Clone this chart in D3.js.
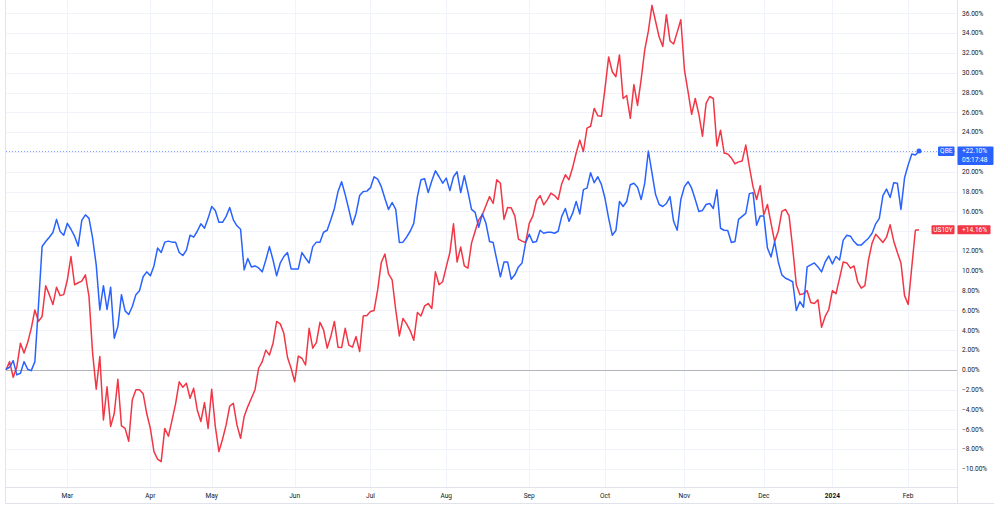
<!DOCTYPE html>
<html>
<head>
<meta charset="utf-8">
<script src="https://cdn.jsdelivr.net/npm/d3@7"></script>
<style>
  body { margin: 0; background: #fff; }
  text { font-family: Roboto, "Liberation Sans", sans-serif; }
</style>
</head>
<body>
<div id="chart"></div>
<script>
// month labels and the bar (trading day) index where each month starts
var months = ["Mar", "Apr", "May", "Jun", "Jul", "Aug", "Sep", "Oct", "Nov", "Dec", "2024", "Feb"]
var monthIdx = [17, 40, 57, 80, 101, 122, 145, 166, 188, 210, 229, 250]

var yTicks = [-10, -8, -6, -4, -2, 0, 2, 4, 6, 8, 10, 12, 14, 16, 18, 20, 22, 24, 26, 28, 30, 32, 34, 36]

// % change since first bar
var qbe = [0.07, 0.27, 0.94, -0.5, -0.34, 0.84, 0.07, -0.07, 0.84, 6.5,
  12.46, 12.96, 13.4, 13.87, 15.2, 13.97, 13.6, 14.8, 14.2, 13.5,
  12.5, 15.1, 15.66, 15.3, 13.3, 10.6, 6.06, 8.5, 6.1, 8.35,
  3.2, 4.4, 7.6, 5.96, 5.6, 6.4, 7.6, 8.0, 9.4, 9.9,
  9.5, 10.5, 12.3, 11.85, 12.9, 13.0, 12.9, 12.9, 11.85, 11.55,
  12.1, 13.6, 13.4, 14.0, 14.75, 14.3, 15.3, 16.5, 16.1, 14.9,
  14.9, 15.5, 16.4, 15.15, 14.55, 14.2, 10.1, 11.25, 10.4, 10.5,
  10.3, 9.9, 11.1, 12.45, 11.1, 9.5, 10.8, 11.45, 11.85, 10.2,
  10.2, 10.2, 11.85, 11.3, 10.8, 12.45, 12.9, 12.9, 13.9, 14.1,
  15.15, 16.3, 18.0, 19.0, 17.7, 16.2, 14.65, 15.8, 17.6, 18.0,
  18.05, 18.4, 19.5, 19.26, 18.5, 17.3, 16.2, 16.9, 16.2, 12.86,
  12.9, 13.4, 14.0, 14.8, 17.5, 19.2, 19.3, 17.9, 19.1, 20.1,
  19.5, 18.85, 19.36, 18.1, 19.5, 20.0, 17.9, 19.6, 18.0, 16.2,
  15.9, 14.4, 15.75, 14.8, 12.96, 12.86, 11.1, 9.4, 10.9, 10.9,
  9.15, 9.6, 10.4, 10.8, 12.86, 13.7, 12.86, 12.96, 14.1, 13.8,
  13.9, 13.9, 13.8, 14.0, 15.5, 16.3, 15.0, 15.8, 17.0, 15.75,
  18.2, 18.35, 19.9, 18.9, 19.5, 18.7, 17.3, 15.3, 13.6, 14.07,
  17.0, 16.5, 17.0, 18.7, 18.85, 18.45, 17.2, 18.85, 22.1, 19.9,
  17.7, 16.7, 16.5, 16.8, 17.5, 15.0, 14.1, 17.2, 18.5, 19.0,
  18.35, 17.2, 16.0, 16.1, 16.7, 16.8, 16.3, 18.2, 14.3, 14.1,
  14.07, 12.86, 12.96, 15.2, 15.5, 15.8, 17.8, 17.9, 14.6, 15.55,
  15.55, 12.3, 11.4, 12.96, 10.9, 9.6, 9.26, 9.1, 8.9, 6.0,
  6.9, 6.33, 10.4, 10.6, 10.8, 10.4, 9.9, 10.9, 11.5, 10.7,
  11.45, 11.1, 13.1, 13.6, 13.5, 12.96, 12.6, 12.6, 12.96, 13.3,
  13.8, 14.75, 15.3, 17.6, 18.25, 17.4, 18.9, 18.85, 16.2, 19.4,
  20.7, 21.8, 21.7, 22.1]

var us10y = [0.0, 0.84, -0.74, 0.3, 2.7, 1.7, 2.76, 4.2, 6.06, 4.9,
  5.4, 8.5, 7.6, 6.6, 8.35, 7.5, 7.6, 9.1, 11.45, 8.6,
  8.8, 8.96, 9.6, 7.4, 1.7, -1.95, 1.35, -5.05, -1.7, -5.7,
  -4.4, -0.94, -5.65, -5.9, -7.2, -3.0, -2.0, -2.0, -2.4, -4.4,
  -5.9, -8.25, -9.0, -9.26, -5.9, -6.7, -5.1, -3.4, -1.2, -1.75,
  -1.35, -2.86, -1.85, -4.04, -5.2, -3.3, -5.9, -1.95, -5.7, -8.25,
  -7.0, -5.55, -3.64, -3.37, -5.55, -6.9, -4.7, -3.7, -2.86, -2.0,
  0.17, 0.84, 2.0, 1.5, 2.7, 4.9, 4.65, 3.7, 1.28, 0.17,
  -1.18, 1.4, 1.18, 0.5, 4.2, 2.2, 2.76, 4.8, 4.04, 2.2,
  3.37, 4.9, 2.3, 2.26, 4.2, 2.5, 2.3, 3.37, 1.85, 5.45,
  5.5, 5.9, 6.0, 8.1, 10.85, 11.7, 9.7, 9.1, 6.06, 3.43,
  5.2, 4.65, 3.97, 3.0, 5.8, 5.45, 6.46, 6.7, 6.2, 9.9,
  8.6, 8.9, 10.4, 11.85, 14.75, 10.9, 12.4, 10.5, 10.27, 12.8,
  14.0, 15.15, 15.66, 16.6, 17.5, 16.8, 19.2, 18.85, 15.2, 16.4,
  16.36, 15.55, 13.2, 13.0, 12.86, 14.8, 15.55, 17.1, 17.6, 16.67,
  17.17, 17.85, 17.6, 17.2, 18.8, 19.7, 19.2, 20.4, 21.9, 23.2,
  22.05, 24.4, 24.6, 26.4, 25.66, 25.6, 28.45, 31.6, 30.1, 29.6,
  31.8, 27.4, 27.7, 25.4, 28.8, 26.7, 29.3, 32.3, 34.2, 36.8,
  35.2, 33.6, 32.66, 35.86, 33.2, 32.9, 34.1, 35.35, 30.3, 28.1,
  25.8, 27.4, 25.8, 23.6, 26.9, 27.6, 27.4, 22.6, 24.2, 21.9,
  21.8, 21.4, 20.8, 21.0, 21.1, 22.7, 20.5, 18.5, 17.2, 18.6,
  15.66, 16.7, 14.8, 12.96, 14.0, 16.0, 16.2, 15.55, 12.3, 8.6,
  7.6, 7.7, 8.0, 6.8, 6.7, 7.07, 4.3, 5.4, 6.1, 8.0,
  7.7, 9.26, 10.9, 10.8, 10.27, 10.5, 8.9, 8.25, 8.5, 11.1,
  12.8, 13.7, 13.3, 12.86, 13.4, 14.65, 13.0, 11.85, 10.8, 7.5,
  6.6, 10.4, 14.1, 14.16]

var width = 1000
    height = 505
var plotRight = 957
    plotBottom = 487

var blue = "#2962ff"
    red = "#f23645"

var svg = d3.select("#chart")
  .append("svg")
    .attr("width", width)
    .attr("height", height)

var x = d3.scaleLinear()
  .domain([0, 253])
  .range([6, 919])

var y = d3.scaleLinear()
  .domain([-10, 36])
  .range([469, 13.3])

var qy = y(qbe[qbe.length - 1])
var ry = y(us10y[us10y.length - 1])

// grid
svg.selectAll("hgrid")
  .data(yTicks)
  .enter()
  .append("line")
    .attr("x1", 6).attr("x2", plotRight)
    .attr("y1", function(d){ return Math.round(y(d)) + 0.5 })
    .attr("y2", function(d){ return Math.round(y(d)) + 0.5 })
    .attr("stroke", "#f0f3fa")

svg.selectAll("vgrid")
  .data(monthIdx)
  .enter()
  .append("line")
    .attr("x1", function(d){ return Math.round(x(d)) + 0.5 })
    .attr("x2", function(d){ return Math.round(x(d)) + 0.5 })
    .attr("y1", 0).attr("y2", plotBottom)
    .attr("stroke", "#f0f3fa")

// zero line
svg.append("line")
  .attr("x1", 6).attr("x2", plotRight)
  .attr("y1", Math.round(y(0)) + 0.5).attr("y2", Math.round(y(0)) + 0.5)
  .attr("stroke", "#b2b5be")

// last price line for QBE
svg.append("line")
  .attr("x1", 6).attr("x2", plotRight)
  .attr("y1", Math.round(qy) + 0.5)
  .attr("y2", Math.round(qy) + 0.5)
  .attr("stroke", blue)
  .attr("stroke-opacity", 0.6)
  .attr("stroke-dasharray", "1,2")

// frame
svg.append("line").attr("x1", 5.5).attr("x2", 5.5).attr("y1", 0).attr("y2", 503.5).attr("stroke", "#e0e3eb")
svg.append("line").attr("x1", 5.5).attr("x2", 994).attr("y1", 503.5).attr("y2", 503.5).attr("stroke", "#e0e3eb")
svg.append("line").attr("x1", 5.5).attr("x2", plotRight).attr("y1", plotBottom + 0.5).attr("y2", plotBottom + 0.5).attr("stroke", "#e0e3eb")
svg.append("line").attr("x1", plotRight + 0.5).attr("x2", plotRight + 0.5).attr("y1", 0).attr("y2", 503.5).attr("stroke", "#e0e3eb")

var line = d3.line()
  .x(function(d, i){ return x(i) })
  .y(function(d){ return y(d) })

svg.append("path")
  .datum(us10y)
  .attr("d", line)
  .attr("fill", "none")
  .attr("stroke", red)
  .attr("stroke-width", 1.5)
  .attr("stroke-linejoin", "round")

svg.append("path")
  .datum(qbe)
  .attr("d", line)
  .attr("fill", "none")
  .attr("stroke", blue)
  .attr("stroke-width", 1.5)
  .attr("stroke-linejoin", "round")

svg.append("circle")
  .attr("cx", x(qbe.length - 1))
  .attr("cy", qy)
  .attr("r", 2.5)
  .attr("fill", blue)

// right price axis (labels under the badges are hidden, as in the app)
var fmt = function(d){ return d3.format(".2f")(d).replace("-", "\u2212") + "%" }

var shownTicks = yTicks.filter(function(d){
  var p = y(d)
  return !(p > qy - 9 && p < qy + 18) && !(p > ry - 9 && p < ry + 9)
})

svg.selectAll("ylabels")
  .data(shownTicks)
  .enter()
  .append("text")
    .attr("x", 962)
    .attr("y", function(d){ return y(d) })
    .attr("dy", "0.35em")
    .style("font-size", "6.6px")
    .style("fill", "#131722")
    .text(fmt)

// bottom time axis
svg.selectAll("xlabels")
  .data(months)
  .enter()
  .append("text")
    .attr("x", function(d, i){ return x(monthIdx[i]) })
    .attr("y", 495.5)
    .attr("dy", "0.35em")
    .attr("text-anchor", "middle")
    .style("font-size", "6.6px")
    .style("font-weight", function(d){ return d == "2024" ? "bold" : "normal" })
    .style("fill", "#131722")
    .text(function(d){ return d })

// badges
svg.append("rect").attr("x", 938).attr("y", qy - 4.5).attr("width", 16.5).attr("height", 9.5).attr("rx", 1).attr("fill", blue)
svg.append("text").attr("x", 946.3).attr("y", qy).attr("dy", "0.35em").attr("text-anchor", "middle")
  .style("font-size", "6.6px").style("fill", "#fff").text("QBE")
svg.append("rect").attr("x", 957.5).attr("y", qy - 4.5).attr("width", 36).attr("height", 18.5).attr("rx", 1).attr("fill", blue)
svg.append("text").attr("x", 962).attr("y", qy).attr("dy", "0.35em")
  .style("font-size", "6.6px").style("fill", "#fff").text("+" + d3.format(".2f")(qbe[qbe.length - 1]) + "%")
svg.append("text").attr("x", 962).attr("y", qy + 9).attr("dy", "0.35em")
  .style("font-size", "6.6px").style("fill", "#fff").text("05:17:48")

svg.append("rect").attr("x", 931.5).attr("y", ry - 4.5).attr("width", 23).attr("height", 9).attr("rx", 1).attr("fill", red)
svg.append("text").attr("x", 943).attr("y", ry).attr("dy", "0.35em").attr("text-anchor", "middle")
  .style("font-size", "6.6px").style("fill", "#fff").text("US10Y")
svg.append("rect").attr("x", 957.5).attr("y", ry - 4.5).attr("width", 33).attr("height", 9).attr("rx", 1).attr("fill", red)
svg.append("text").attr("x", 962).attr("y", ry).attr("dy", "0.35em")
  .style("font-size", "6.6px").style("fill", "#fff").text("+" + d3.format(".2f")(us10y[us10y.length - 1]) + "%")
</script>
</body>
</html>
